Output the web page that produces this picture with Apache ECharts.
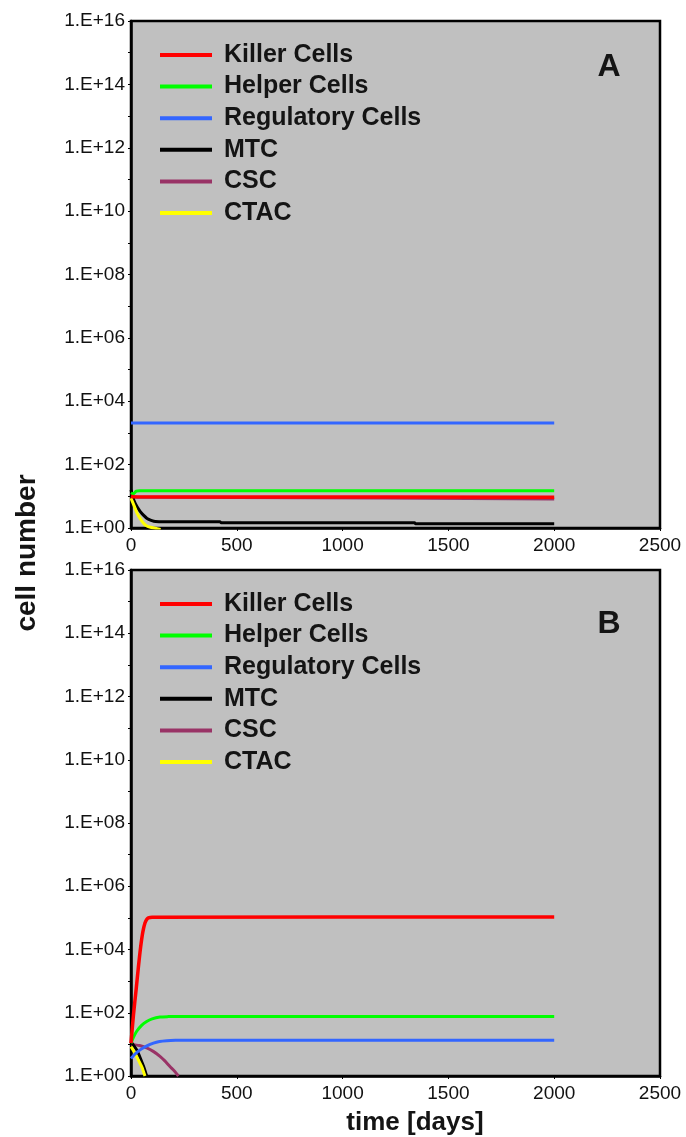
<!DOCTYPE html>
<html>
<head>
<meta charset="utf-8">
<script src="https://cdn.jsdelivr.net/npm/echarts@6/dist/echarts.min.js"></script>
<style>
html,body{margin:0;padding:0;background:#fff;}
#c{width:686px;height:1137px;}
</style>
</head>
<body>
<div id="c"></div>
<script>
// ---- Data (days, cell number) ----
const seriesNames = ['Killer Cells', 'Helper Cells', 'Regulatory Cells', 'MTC', 'CSC', 'CTAC'];
const xTicks = [0, 500, 1000, 1500, 2000, 2500];
const yLabelValues = [1, 1e2, 1e4, 1e6, 1e8, 1e10, 1e12, 1e14, 1e16];
const yTickValues = [1, 1e1, 1e2, 1e3, 1e4, 1e5, 1e6, 1e7, 1e8, 1e9, 1e10, 1e11, 1e12, 1e13, 1e14, 1e15, 1e16];

// Panel A
const A_killer = [[0, 10], [15, 9.6], [500, 9.5], [2000, 9.4]];
const A_helper = [[0, 13], [10, 12], [25, 14.5], [40, 15], [2000, 15]];
const A_reg = [[0, 2050], [2000, 2050]];
const A_mtc = [[0, 16], [13, 7.7], [30, 4.5], [44, 3.3], [60, 2.5], [76, 2.0], [95, 1.75], [116, 1.6], [160, 1.58], [420, 1.58], [425, 1.47], [1340, 1.47], [1345, 1.36], [2000, 1.36]];
const A_csc = [[0, 10], [30, 9.4], [500, 9.2], [2000, 8.3]];
const A_ctac = [[0, 8.7], [15, 5.0], [29, 2.9], [45, 1.9], [60, 1.4], [75, 1.15], [92, 1.05], [140, 0.9]];

// Panel B
const B_killer = [[0, 11], [12, 90], [24, 525], [35, 2800], [46, 12600], [56, 36000], [66, 69000], [75, 90000], [82, 100000], [100, 105000], [2000, 106000]];
const B_helper = [[0, 11], [12, 17], [27, 26], [50, 40], [74, 53], [100, 64], [137, 73], [175, 75.5], [216, 76], [2000, 76]];
const B_reg = [[0, 3.6], [20, 5.0], [43, 6.7], [75, 9.0], [106, 11], [135, 12.3], [169, 13], [210, 13.4], [250, 13.5], [2000, 13.5]];
const B_mtc = [[0, 12], [13, 9.2], [27, 6.7], [40, 4.3], [50, 2.9], [62, 1.8], [74, 1.0]];
const B_csc = [[0, 10], [40, 9.2], [74, 7.7], [105, 6.0], [137, 4.2], [160, 3.0], [184, 2.0], [205, 1.45], [224, 1.0]];
const B_ctac = [[0, 8.5], [14, 6.0], [27, 4.1], [38, 2.9], [50, 2.0], [58, 1.45], [66, 1.0]];

const colors = {
  'Killer Cells': '#ff0000',
  'Helper Cells': '#00ff00',
  'Regulatory Cells': '#3366ff',
  'MTC': '#000000',
  'CSC': '#993366',
  'CTAC': '#ffff00'
};

const FONT = '"Liberation Sans", Arial, sans-serif';
const chart = echarts.init(document.getElementById('c'), null, {renderer: 'canvas'});

function fmtY(v) {
  const e = Math.round(Math.log10(v));
  return '1.E+' + (e < 10 ? '0' + e : e);
}

const grids = [
  {left: 131, right: 26, top: 21, height: 507},
  {left: 131, right: 26, top: 570, height: 506}
];

function xAx(i) {
  return {
    type: 'value', gridIndex: i, min: xTicks[0], max: xTicks[xTicks.length - 1], interval: 500,
    axisLine: {show: true, onZero: false, lineStyle: {color: '#000', width: 2.5}},
    axisTick: {show: true, length: 3, lineStyle: {color: '#000'}},
    axisLabel: {color: '#111', fontSize: 19, fontFamily: FONT, margin: 8, formatter: v => String(v)},
    splitLine: {show: false}
  };
}
function yAx(i) {
  return {
    type: 'log', logBase: 10, gridIndex: i, min: 1, max: 1e16,
    axisLine: {show: true, lineStyle: {color: '#000', width: 2.5}},
    axisTick: {show: true, length: 3, lineStyle: {color: '#000'}, customValues: yTickValues},
    axisLabel: {color: '#111', fontSize: 19, fontFamily: FONT, margin: 6, formatter: fmtY, customValues: yLabelValues},
    splitLine: {show: false}
  };
}

const drawOrder = ['CSC', 'MTC', 'CTAC', 'Regulatory Cells', 'Helper Cells', 'Killer Cells'];
const panelData = [
  {'Killer Cells': A_killer, 'Helper Cells': A_helper, 'Regulatory Cells': A_reg, 'MTC': A_mtc, 'CSC': A_csc, 'CTAC': A_ctac},
  {'Killer Cells': B_killer, 'Helper Cells': B_helper, 'Regulatory Cells': B_reg, 'MTC': B_mtc, 'CSC': B_csc, 'CTAC': B_ctac}
];

const series = [];
panelData.forEach((pd, i) => {
  drawOrder.forEach(name => {
    series.push({
      name: name, type: 'line', xAxisIndex: i, yAxisIndex: i,
      data: pd[name], showSymbol: false, symbol: 'none',
      smooth: 0.25,
      clip: true,
      lineStyle: {color: colors[name], width: name === 'Killer Cells' ? 3.5 : 3},
      itemStyle: {color: colors[name]},
      animation: false
    });
  });
});

function legend(top) {
  return {
    data: seriesNames.map(n => ({name: n, icon: 'rect'})),
    orient: 'vertical', left: 160, top: top, padding: 0,
    itemWidth: 52, itemHeight: 4, itemGap: 6.6,
    selectedMode: false,
    textStyle: {fontSize: 25, fontWeight: 'bold', color: '#141414', fontFamily: FONT, lineHeight: 25, padding: [0, 0, 0, 7]}
  };
}

chart.setOption({
  animation: false,
  grid: grids.map(g => Object.assign({show: true, backgroundColor: '#c0c0c0', borderColor: '#000', borderWidth: 2.5, containLabel: false}, g)),
  xAxis: [xAx(0), xAx(1)],
  yAxis: [yAx(0), yAx(1)],
  legend: [legend(42.5), legend(591.5)],
  series: series,
  graphic: [
    {type: 'text', x: 609, y: 67, style: {text: 'A', fontSize: 32, fontWeight: 'bold', fontFamily: FONT, fill: '#141414', textAlign: 'center', textVerticalAlign: 'middle'}},
    {type: 'text', x: 609, y: 624, style: {text: 'B', fontSize: 32, fontWeight: 'bold', fontFamily: FONT, fill: '#141414', textAlign: 'center', textVerticalAlign: 'middle'}},
    {type: 'text', x: 27, y: 553, rotation: Math.PI / 2, style: {text: 'cell number', fontSize: 28, fontWeight: 'bold', fontFamily: FONT, fill: '#141414', textAlign: 'center', textVerticalAlign: 'middle'}},
    {type: 'text', x: 415, y: 1123, style: {text: 'time [days]', fontSize: 26, fontWeight: 'bold', fontFamily: FONT, fill: '#141414', textAlign: 'center', textVerticalAlign: 'middle'}}
  ]
});
</script>
</body>
</html>
